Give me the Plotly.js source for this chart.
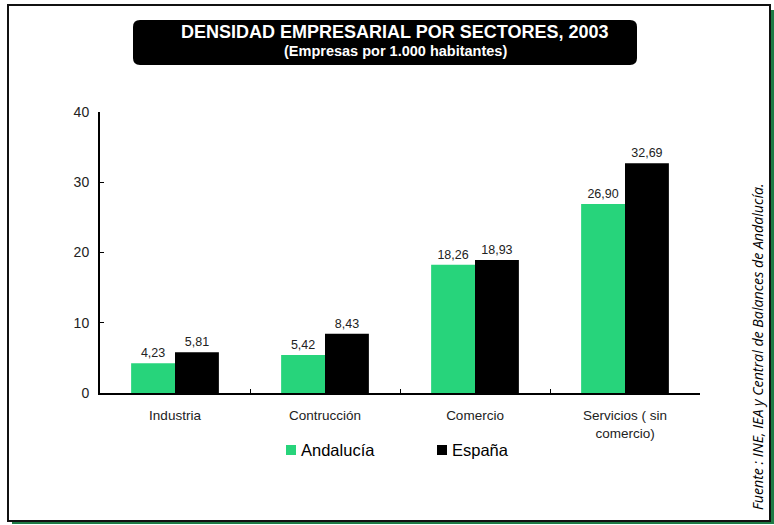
<!DOCTYPE html>
<html><head><meta charset="utf-8">
<script src="https://cdn.plot.ly/plotly-3.0.1.min.js"></script>
<style>html,body{margin:0;padding:0;background:#fff;}#chart{width:774px;height:525px;}</style>
</head><body><div id="chart"></div>
<script>
const categories = ['Industria', 'Contrucción', 'Comercio', 'Servicios ( sin<br>comercio)'];
const andalucia = [4.23, 5.42, 18.26, 26.90];
const espana = [5.81, 8.43, 18.93, 32.69];
const seriesNames = ['Andalucía', 'España'];
const yTicks = [0, 10, 20, 30, 40];

const W = 774, H = 525;
const L = 100, R = 74, T = 112, B = 132;
const PW = W - L - R, PH = H - T - B;
const px = x => (x - L) / PW;
const py = y => (H - B - y) / PH;
const fmt = v => v.toFixed(2).replace('.', ',');
const green = '#27D47B';
const font = 'Liberation Sans, Arial, sans-serif';

const traces = [
  {type: 'bar', name: seriesNames[0], x: categories, y: andalucia, marker: {color: green},
   text: andalucia.map(fmt), textposition: 'outside', cliponaxis: false, showlegend: false,
   textfont: {size: 12.5, color: '#222', family: font}},
  {type: 'bar', name: seriesNames[1], x: categories, y: espana, marker: {color: '#000'},
   text: espana.map(fmt), textposition: 'outside', cliponaxis: false, showlegend: false,
   textfont: {size: 12.5, color: '#222', family: font}}
];

function roundRect(x0, y0, x1, y1, r) {
  const X0 = px(x0), X1 = px(x1), Y0 = py(y0), Y1 = py(y1);
  const rx = r / PW, ry = r / PH;
  return `M${X0 + rx},${Y0} L${X1 - rx},${Y0} Q${X1},${Y0} ${X1},${Y0 - ry} L${X1},${Y1 + ry} Q${X1},${Y1} ${X1 - rx},${Y1} L${X0 + rx},${Y1} Q${X0},${Y1} ${X0},${Y1 + ry} L${X0},${Y0 - ry} Q${X0},${Y0} ${X0 + rx},${Y0} Z`;
}

const legendColors = [green, '#000'];
const legendX = [286, 437];
const legendY = 450;

const shapes = [
  {type: 'rect', xref: 'paper', yref: 'paper', x0: px(771), x1: px(774), y0: py(10), y1: py(524), fillcolor: '#1e7a45', line: {width: 0}, layer: 'below'},
  {type: 'rect', xref: 'paper', yref: 'paper', x0: px(12), x1: px(774), y0: py(521), y1: py(524), fillcolor: '#1e7a45', line: {width: 0}, layer: 'below'},
  {type: 'rect', xref: 'paper', yref: 'paper', x0: px(8), x1: px(770), y0: py(5), y1: py(521), line: {color: '#111', width: 2}, fillcolor: 'rgba(0,0,0,0)', layer: 'below'},
  {type: 'path', xref: 'paper', yref: 'paper', path: roundRect(133, 20, 637, 65, 7), fillcolor: '#000', line: {width: 0}}
];
legendX.forEach((lx, i) => shapes.push({type: 'rect', xref: 'paper', yref: 'paper', x0: px(lx), x1: px(lx + 10), y0: py(legendY - 5), y1: py(legendY + 5), fillcolor: legendColors[i], line: {width: 0}}));

const annotations = [
  {xref: 'paper', yref: 'paper', x: px(394), y: py(32), text: '<b>DENSIDAD EMPRESARIAL POR SECTORES, 2003</b>', showarrow: false,
   font: {family: font, size: 18, color: '#fff'}, xanchor: 'center', yanchor: 'middle'},
  {xref: 'paper', yref: 'paper', x: px(395), y: py(51), text: '<b>(Empresas por 1.000 habitantes)</b>', showarrow: false,
   font: {family: font, size: 14.5, color: '#fff'}, xanchor: 'center', yanchor: 'middle'},
  {xref: 'paper', yref: 'paper', x: px(757), y: py(347), text: '<i>Fuente : INE, IEA y Central de Balances de Andalucía.</i>', showarrow: false,
   textangle: -90, font: {family: 'Open Sans, sans-serif', size: 14.2, color: '#000'}, xanchor: 'center', yanchor: 'middle'}
];
seriesNames.forEach((n, i) => annotations.push({xref: 'paper', yref: 'paper', x: px(legendX[i] + 13), y: py(legendY), text: n, showarrow: false,
  font: {family: font, size: 16.5, color: '#000'}, xanchor: 'left', yanchor: 'middle'}));

const layout = {
  width: W, height: H,
  margin: {l: L, r: R, t: T, b: B},
  paper_bgcolor: '#fff', plot_bgcolor: '#fff',
  barmode: 'group', bargap: 0.415, bargroupgap: 0,
  showlegend: false,
  xaxis: {type: 'category', showline: true, linecolor: '#000', linewidth: 2, ticks: 'inside', ticklen: 4, tickwidth: 1, tickcolor: '#000',
          tickson: 'boundaries', tickfont: {family: font, size: 13.5, color: '#222'}, showgrid: false, zeroline: false, ticklabelstandoff: 9},
  yaxis: {range: [0, 40], tickvals: yTicks, showline: true, linecolor: '#000', linewidth: 2, ticks: 'inside', ticklen: 4, tickwidth: 1,
          tickcolor: '#000', tickfont: {family: font, size: 14, color: '#222'}, showgrid: false, zeroline: false, ticklabelstandoff: 6},
  shapes: shapes,
  annotations: annotations
};

Plotly.newPlot('chart', traces, layout, {displayModeBar: false, staticPlot: true});
</script></body></html>
